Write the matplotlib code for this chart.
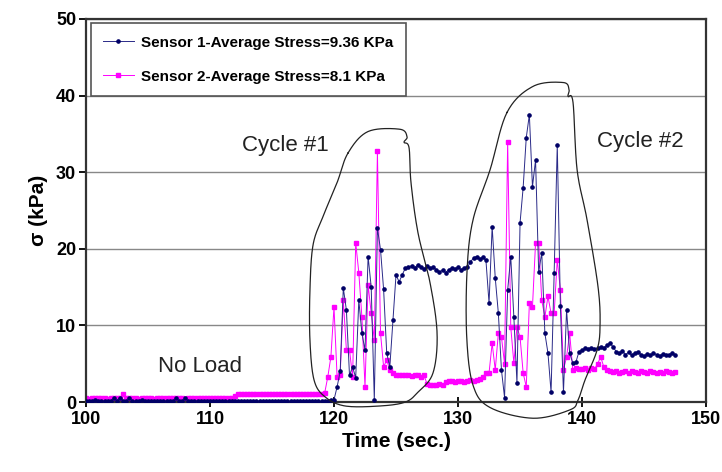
import numpy as np
import matplotlib
matplotlib.use('Agg')
import matplotlib.pyplot as plt

plt.rcParams['font.family'] = ['Liberation Sans', 'DejaVu Sans']

# sampling grid (s)
time = np.arange(100.0, 147.51, 0.25)

# sensor 1 (kPa)
sensor1 = [
    # 100 - 119.75
    0.1, 0.2, 0.1, 0.3, 0.2, 0.1, 0.2, 0.1, 0.2, 0.5,
    0.2, 0.6, 0.2, 0.1, 0.5, 0.2, 0.1, 0.2, 0.3, 0.1,
    0.2, 0.1, 0.2, 0.1, 0.1, 0.2, 0.1, 0.2, 0.1, 0.5,
    0.2, 0.1, 0.5, 0.2, 0.1, 0.1, 0.2, 0.1, 0.1, 0.2,
    0.1, 0.1, 0.2, 0.1, 0.1, 0.1, 0.2, 0.1, 0.1, 0.1,
    0.1, 0.2, 0.1, 0.1, 0.1, 0.1, 0.2, 0.1, 0.1, 0.1,
    0.1, 0.1, 0.1, 0.2, 0.1, 0.1, 0.1, 0.1, 0.2, 0.1,
    0.1, 0.1, 0.1, 0.1, 0.2, 0.1, 0.1, 0.1, 0.1, 0.3,
    # 120 - 125.75 (cycle 1)
    0.3, 2.0, 4.0, 14.9, 12.0, 3.5, 4.6, 3.2, 13.3, 9.0,
    6.8, 19.0, 15.0, 0.3, 22.7, 19.9, 14.7, 6.4, 4.6, 10.7,
    16.6, 15.7, 16.6, 17.5,
    # 126 - 132.75
    17.6, 17.8, 17.5, 17.9, 17.6, 17.4, 17.7, 17.5, 17.6, 17.3,
    17.0, 17.2, 16.9, 17.3, 17.5, 17.4, 17.6, 17.3, 17.5, 17.6,
    18.3, 18.8, 19.0, 18.7, 18.9, 18.5, 12.9, 22.9,
    # 133 - 139.75 (cycle 2)
    16.2, 11.6, 4.2, 0.6, 14.6, 19.0, 11.1, 2.5, 23.4, 28.0,
    34.5, 37.5, 28.1, 31.6, 17.0, 19.5, 9.0, 6.4, 1.3, 16.9,
    33.6, 12.6, 1.3, 12.0, 6.4, 5.1, 5.2, 6.6,
    # 140 - 147.5
    6.8, 7.0, 6.9, 7.1, 6.9, 7.0, 7.2, 7.1, 7.4, 7.7,
    7.2, 6.6, 6.4, 6.7, 6.2, 6.5, 6.1, 6.4, 6.6, 6.2,
    6.0, 6.3, 6.1, 6.4, 6.2, 6.0, 6.3, 6.1, 6.2, 6.4, 6.1,
]

# sensor 2 (kPa)
sensor2 = [
    # 100 - 119.75
    0.5, 0.4, 0.5, 0.5, 0.6, 0.5, 0.5, 0.4, 0.5, 0.5,
    0.5, 0.6, 1.0, 0.6, 0.5, 0.5, 0.5, 0.4, 0.5, 0.5,
    0.5, 0.5, 0.4, 0.5, 0.5, 0.6, 0.5, 0.5, 0.5, 0.5,
    0.5, 0.5, 0.4, 0.5, 0.5, 0.5, 0.6, 0.5, 0.5, 0.5,
    0.5, 0.5, 0.5, 0.6, 0.5, 0.5, 0.5, 0.5, 0.8, 1.0,
    1.0, 1.0, 1.1, 1.0, 1.0, 1.0, 1.0, 1.1, 1.0, 1.0,
    1.0, 1.0, 1.0, 1.1, 1.0, 1.0, 1.0, 1.0, 1.0, 1.1,
    1.0, 1.0, 1.0, 1.1, 1.0, 1.0, 1.0, 1.2, 3.3, 5.9,
    # 120 - 125.75 (cycle 1)
    12.4, 3.3, 3.6, 13.3, 6.8, 6.8, 3.3, 20.8, 16.9, 11.1,
    2.0, 15.3, 11.6, 8.1, 32.7, 9.0, 4.6, 5.5, 4.2, 3.8,
    3.6, 3.5, 3.6, 3.5,
    # 126 - 132.75
    3.5, 3.4, 3.6, 3.5, 3.3, 3.5, 2.4, 2.3, 2.2, 2.3,
    2.4, 2.3, 2.6, 2.7, 2.7, 2.6, 2.7, 2.8, 2.6, 2.7,
    2.9, 2.8, 2.9, 3.0, 3.3, 3.8, 3.8, 7.7,
    # 133 - 139.75 (cycle 2)
    4.2, 9.0, 8.5, 5.0, 34.0, 9.8, 5.1, 9.8, 8.5, 3.8,
    2.0, 12.9, 12.4, 20.8, 20.8, 13.3, 11.1, 13.8, 11.6, 11.6,
    18.6, 14.6, 4.2, 5.9, 9.0, 4.2, 4.4, 4.3,
    # 140 - 147.5
    4.3, 4.4, 4.2, 4.5, 4.3, 5.0, 5.9, 4.6, 4.2, 4.0,
    3.9, 4.1, 3.8, 3.9, 4.0, 3.8, 4.1, 3.9, 3.8, 4.0,
    3.9, 3.8, 4.1, 3.9, 3.8, 3.9, 3.8, 4.0, 3.9, 3.8, 3.9,
]

labels = ['Sensor 1-Average Stress=9.36 KPa', 'Sensor 2-Average Stress=8.1 KPa']

# hand-drawn loops round the two loading cycles (time, kPa)
loop1 = [(121.13, 32.5), (122.74, 35.3), (125.32, 35.6), (125.89, 34.6), (125.65, 33.9),
         (126.05, 33.2), (126.21, 28.6), (126.77, 22.1), (127.74, 15.6), (128.31, 9.0),
         (127.98, 3.8), (126.77, 1.3), (125.73, 0.0), (123.71, -0.5), (120.89, -0.5),
         (119.27, 0.7), (118.39, 2.9), (118.06, 8.1), (118.06, 14.6), (118.31, 20.5),
         (119.11, 24.2), (120.24, 28.6)]
loop2 = [(133.95, 37.8), (136.05, 41.2), (138.47, 41.7), (138.95, 40.8), (138.87, 39.9),
         (139.27, 39.1), (139.60, 30.3), (140.40, 23.8), (141.29, 15.0), (141.45, 10.0),
         (141.21, 6.8), (140.24, 2.9), (139.68, 0.3), (139.03, -1.0), (136.05, -2.1),
         (132.58, -0.7), (131.21, 2.2), (130.70, 8.5), (130.73, 17.3), (131.21, 23.8),
         (132.58, 30.3)]


def smooth_loop(pts, n=20):
    # closed catmull-rom curve through the outline points
    p = np.array(pts)
    m = len(p)
    out = []
    for i in range(m):
        p0, p1, p2, p3 = p[i - 1], p[i], p[(i + 1) % m], p[(i + 2) % m]
        for t in np.linspace(0, 1, n, endpoint=False):
            t2, t3 = t * t, t * t * t
            out.append(0.5 * ((2 * p1) + (-p0 + p2) * t + (2 * p0 - 5 * p1 + 4 * p2 - p3) * t2
                              + (-p0 + 3 * p1 - 3 * p2 + p3) * t3))
    out.append(out[0])
    return np.array(out)


fig = plt.figure(figsize=(7.22, 4.72), dpi=100)
ax = fig.add_axes([0.119, 0.148, 0.859, 0.812])

ax.plot(time, sensor1, color='#2a2a88', lw=0.7, marker='o', ms=2.3, mec='#000066',
        mfc='#000066', label=labels[0], zorder=3)
ax.plot(time, sensor2, color='#ff00ff', lw=0.7, marker='s', ms=2.2, label=labels[1], zorder=2)

for loop in (loop1, loop2):
    c = smooth_loop(loop)
    ax.plot(c[:, 0], c[:, 1], color='#222222', lw=0.9, clip_on=False, zorder=4)

ax.text(116.1, 33.5, 'Cycle #1', fontsize=16, color='#222222', ha='center', va='center')
ax.text(144.7, 34.0, 'Cycle #2', fontsize=16, color='#222222', ha='center', va='center')
ax.text(109.2, 4.7, 'No Load', fontsize=16, color='#222222', ha='center', va='center')

ax.set_xlim(100, 150)
ax.set_ylim(0, 50)
ax.set_xticks([100, 110, 120, 130, 140, 150])
ax.set_yticks([0, 10, 20, 30, 40, 50])
ax.yaxis.grid(True, color='#888888', lw=1)
ax.set_axisbelow(True)
for s in ax.spines.values():
    s.set_color('#333333')
    s.set_linewidth(1.6)
ax.tick_params(axis='y', direction='out', length=5, width=1.3, labelsize=13, pad=2)
ax.tick_params(axis='x', direction='inout', length=7, width=1.3, labelsize=13, pad=3)
for lab in ax.get_xticklabels() + ax.get_yticklabels():
    lab.set_fontweight('bold')

ax.set_xlabel('Time (sec.)', fontsize=15, fontweight='bold', labelpad=3)
ax.set_ylabel('σ (kPa)', fontsize=15, fontweight='bold', labelpad=6)

leg = ax.legend(loc='upper left', bbox_to_anchor=(0.008, 0.988), borderaxespad=0,
                prop={'weight': 'bold', 'size': 11}, labelspacing=1.3, handlelength=2.0,
                fancybox=False, framealpha=1, edgecolor='#555555', borderpad=0.8,
                handletextpad=0.5)
leg.get_frame().set_linewidth(1.2)

fig.savefig('out.png', dpi=100)
